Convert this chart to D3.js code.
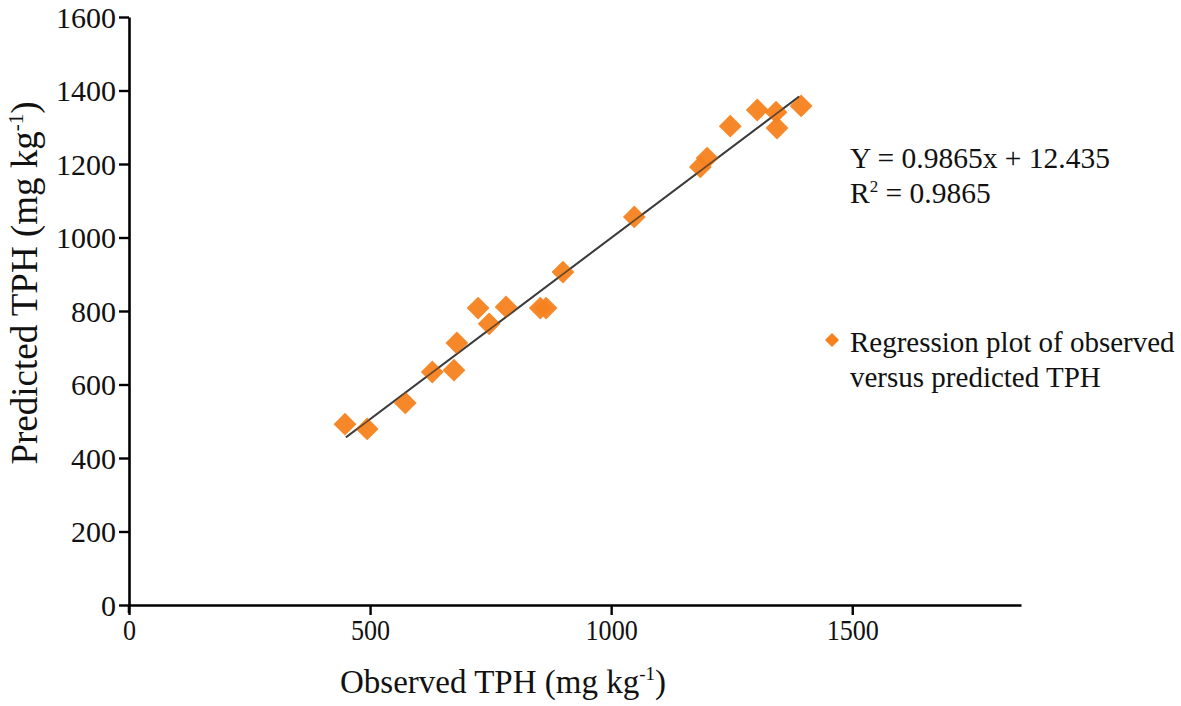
<!DOCTYPE html>
<html><head><meta charset="utf-8">
<script src="https://cdnjs.cloudflare.com/ajax/libs/d3/7.8.5/d3.min.js"></script>
<style>body{margin:0;background:#fff}svg{display:block}text{font-family:"Liberation Serif","Times New Roman",serif;fill:#111}</style>
</head><body><svg id="c" width="1181" height="706"></svg>
<script>
const observed = [448,494,573,629,674,680,724,747,782,853,865,900,1048,1185,1199,1247,1303,1342,1344,1394];
const predicted = [492,479,550,634,639,713,808,765,811,808,808,906,1056,1192,1216,1303,1347,1341,1298,1358];
const xTicks = [0,500,1000,1500];
const yTicks = [0,200,400,600,800,1000,1200,1400,1600];
const slope = 0.9865, intercept = 12.435;
const fitRange = [450,1390];
const eqText = "Y = 0.9865x + 12.435";
const r2Text = "0.9865";
const legendLines = ["Regression plot of observed","versus predicted TPH"];

const svg = d3.select("#c");
const x = d3.scaleLinear().domain([0,1850]).range([129,1021]);
const y = d3.scaleLinear().domain([0,1600]).range([605,17]);
const orange = "#f5821f";

// axes
const xa = svg.append("g").attr("transform","translate(0,605)")
  .call(d3.axisBottom(x).tickValues(xTicks).tickSize(10).tickSizeOuter(0).tickFormat(d3.format("d")));
const ya = svg.append("g").attr("transform","translate(129,0)")
  .call(d3.axisLeft(y).tickValues(yTicks).tickSize(10).tickSizeOuter(0).tickFormat(d3.format("d")));
[xa,ya].forEach(g=>{
  g.selectAll("path.domain").attr("stroke","#000").attr("stroke-width",2.6);
  g.selectAll(".tick line").attr("stroke","#000").attr("stroke-width",2.4);
  g.selectAll(".tick text").attr("font-family","Liberation Serif, serif").attr("font-size",30).attr("fill","#111");
});
svg.append("line").attr("x1",129).attr("x2",129).attr("y1",605).attr("y2",613).attr("stroke","#000").attr("stroke-width",2.6);
ya.selectAll(".tick text").attr("x",-13).attr("dy","0.34em");
xa.selectAll(".tick text").attr("y",14).attr("dy","0.71em").attr("x",0).attr("transform","scale(0.87,1)");

// regression line (under points)
svg.append("line")
  .attr("x1",x(fitRange[0])).attr("y1",y(slope*fitRange[0]+intercept))
  .attr("x2",x(fitRange[1])).attr("y2",y(slope*fitRange[1]+intercept))
  .attr("stroke","#555").attr("stroke-width",2);

// points
const diamond = d3.symbol().type(d3.symbolSquare).size(260);
svg.append("g").selectAll("path").data(observed.map((o,i)=>[o,predicted[i]])).join("path")
  .attr("d",diamond)
  .attr("transform",d=>`translate(${x(d[0])},${y(d[1])}) rotate(45)`)
  .attr("fill",orange).attr("fill-opacity",0.95);
// line drawn again faintly over points
svg.append("line")
  .attr("x1",x(fitRange[0])).attr("y1",y(slope*fitRange[0]+intercept))
  .attr("x2",x(fitRange[1])).attr("y2",y(slope*fitRange[1]+intercept))
  .attr("stroke","#333").attr("stroke-width",1.6).attr("stroke-opacity",0.75);

// equation
svg.append("text").attr("x",850).attr("y",168).attr("font-size",29.5).text(eqText);
const r2 = svg.append("text").attr("x",850).attr("y",203).attr("font-size",29.5);
r2.append("tspan").text("R");
r2.append("tspan").attr("font-size",17).attr("dy",-11).text("2");
r2.append("tspan").attr("dy",11).text(" = "+r2Text);

// legend
svg.append("path").attr("d",d3.symbol().type(d3.symbolSquare).size(100))
  .attr("transform","translate(832,340) rotate(45)").attr("fill",orange);
legendLines.forEach((t,i)=>svg.append("text").attr("x",850).attr("y",352+i*35).attr("font-size",29).text(t));

// axis titles
const xt = svg.append("text").attr("x",503).attr("y",693).attr("text-anchor","middle").attr("font-size",33);
xt.append("tspan").text("Observed TPH (mg kg");
xt.append("tspan").attr("font-size",19).attr("dy",-13).text("-1");
xt.append("tspan").attr("dy",13).text(")");
const yt = svg.append("text").attr("transform","translate(37,283) rotate(-90)").attr("text-anchor","middle").attr("font-size",37);
yt.append("tspan").text("Predicted TPH (mg kg");
yt.append("tspan").attr("font-size",21).attr("dy",-14).text("-1");
yt.append("tspan").attr("dy",14).text(")");
</script></body></html>
